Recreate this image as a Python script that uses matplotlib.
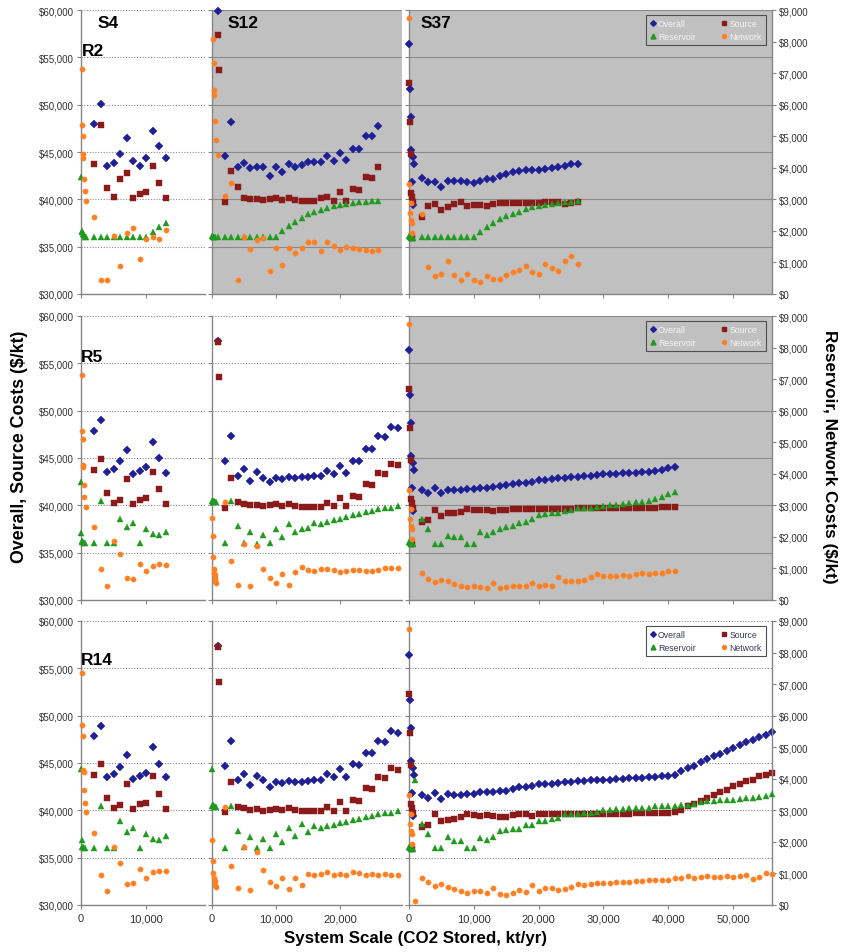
import matplotlib
matplotlib.use("Agg")
import matplotlib.pyplot as plt
from matplotlib.ticker import FuncFormatter
from matplotlib.lines import Line2D

plt.rcParams['font.family'] = ['Liberation Sans', 'DejaVu Sans']

# ---------------------------------------------------------------- data
# x positions (kt/yr) of the regular scale steps
X_S4 = [2000, 3000, 4000, 5000, 6000, 7000, 8000, 9000, 10000, 11000, 12000, 13000]
X_1K_26K = list(range(1000, 27000, 1000))
X_2K_26K = list(range(2000, 27000, 1000))
X_1K_29K = list(range(1000, 30000, 1000))
X_2K_29K = list(range(2000, 30000, 1000))
X_2K_41K = list(range(2000, 42000, 1000))
X_2K_56K = list(range(2000, 57000, 1000))

# Overall / Source -> left axis ($/kt, 30k-60k); Reservoir / Network -> right axis ($/kt, 0-9k)

# ---- R2 / S4
R2_S4_OVERALL_X = X_S4
R2_S4_OVERALL_Y = [48000, 50100, 43500, 43800, 44800, 46500, 44000, 43500, 44400, 47200, 45600, 44400]
R2_S4_SOURCE_X = X_S4
R2_S4_SOURCE_Y = [43700, 47800, 41200, 40200, 42100, 42800, 40100, 40600, 40800, 43500, 41700, 40100]
R2_S4_RESERVOIR_X = [0, 100, 200, 300, 400, 600, 800] + X_S4
R2_S4_RESERVOIR_Y = [3720, 1950, 2010, 1900, 1860, 1820, 1800,
                     1800, 1800, 1800, 1800, 1800, 1800, 1800, 1800, 1800, 1980, 2130, 2250]
R2_S4_NETWORK_X = [100, 150, 250, 300, 350, 450, 550, 700] + X_S4
R2_S4_NETWORK_Y = [7140, 5355, 5010, 4320, 4440, 3660, 3270, 2940,
                   2430, 450, 450, 1830, 900, 1920, 2100, 1110, 1740, 1800, 1740, 2040]

# ---- R2 / S12
R2_S12_OVERALL_X = X_1K_26K
R2_S12_OVERALL_Y = [59930, 44610, 48200, 43380, 43800, 43270, 43450, 43450, 42500, 43380,
                    42850, 43730, 43450, 43660, 43910, 43910, 43910, 44540, 44090, 44900,
                    44190, 45320, 45320, 46730, 46660, 47780]
R2_S12_SOURCE_X = [900, 1100] + X_2K_26K
R2_S12_SOURCE_Y = [57360, 53700,
                   39750, 42960, 41270, 40140, 40040, 40040, 39930, 40040, 40100, 39960,
                   40100, 39930, 39860, 39860, 39860, 40140, 40210, 39860, 40810, 39860,
                   41090, 41020, 42320, 42250, 43450]
R2_S12_RESERVOIR_X = [0, 100, 200, 300, 500] + X_1K_26K
R2_S12_RESERVOIR_Y = [1830, 1820, 1810, 1800, 1800,
                      1800, 1800, 1800, 1800, 1800, 1800, 1800, 1800, 1800, 1800,
                      1990, 2150, 2280, 2410, 2520, 2600, 2670, 2730, 2780, 2820,
                      2850, 2880, 2900, 2920, 2940, 2940]
R2_S12_NETWORK_X = [100, 250, 300, 350, 500, 600, 1000] + X_2K_26K
R2_S12_NETWORK_Y = [8070, 7320, 6450, 6300, 5490, 4890, 4410,
                    3120, 3510, 450, 1800, 1440, 1710, 1770, 720, 1470, 930,
                    1470, 1290, 1470, 1650, 1650, 1350, 1650, 1530, 1410, 1500,
                    1470, 1440, 1410, 1350, 1410]

# ---- S37 start-up points (near zero scale), common to all rows
S37_HEAD_OVERALL_X = [0, 150, 300, 300, 600, 800, 500, 600]
S37_HEAD_OVERALL_Y = [56430, 51700, 48700, 45200, 44500, 43730, 41870, 39400]
S37_HEAD_SOURCE_X = [0, 150, 300, 350, 450, 550, 400]
S37_HEAD_SOURCE_Y = [52300, 48170, 44830, 40630, 40270, 39770, 35900]
S37_HEAD_RESERVOIR_X = [0, 150, 300, 500, 600]
S37_HEAD_RESERVOIR_Y = [1850, 1800, 1780, 1800, 1760]
S37_HEAD_NETWORK_X = [0, 0, 300, 150, 300, 500, 400]
S37_HEAD_NETWORK_Y = [8750, 3490, 2870, 2560, 2350, 2240, 1930]

# ---- R2 / S37
R2_S37_OVERALL_X = S37_HEAD_OVERALL_X + X_2K_26K
R2_S37_OVERALL_Y = S37_HEAD_OVERALL_Y + [
    42300, 41800, 41800, 41300, 41900, 41900, 41900, 41800, 41700, 41900,
    42100, 42200, 42500, 42700, 42900, 43000, 43100, 43100, 43100, 43200,
    43300, 43400, 43500, 43700, 43700]
R2_S37_SOURCE_X = S37_HEAD_SOURCE_X + X_2K_26K
R2_S37_SOURCE_Y = S37_HEAD_SOURCE_Y + [
    38100, 39330, 39500, 38870, 39150, 39500, 39680, 39330, 39440, 39440,
    39330, 39500, 39600, 39600, 39600, 39600, 39600, 39600, 39600, 39680,
    39680, 39680, 39500, 39600, 39680]
R2_S37_RESERVOIR_X = S37_HEAD_RESERVOIR_X + X_2K_26K
R2_S37_RESERVOIR_Y = S37_HEAD_RESERVOIR_Y + [
    1800, 1800, 1800, 1800, 1800, 1800, 1800, 1800, 1800,
    1980, 2115, 2250, 2380, 2480, 2540, 2610, 2700, 2750, 2800,
    2810, 2860, 2880, 2910, 2910, 2940]
R2_S37_NETWORK_X = S37_HEAD_NETWORK_X + X_2K_26K
R2_S37_NETWORK_Y = S37_HEAD_NETWORK_Y + [
    2540, 850, 580, 640, 1060, 600, 450, 640, 430, 370,
    580, 480, 480, 600, 690, 770, 900, 710, 640, 950,
    820, 740, 1060, 1220, 950]

# ---- R5 / S4
R5_S4_OVERALL_X = X_S4
R5_S4_OVERALL_Y = [47800, 49000, 43500, 43800, 44700, 45800, 43300, 43600, 44000, 46700, 45000, 43400]
R5_S4_SOURCE_X = X_S4
R5_S4_SOURCE_Y = [43700, 44900, 41300, 40200, 40600, 42800, 40100, 40600, 40800, 43500, 41700, 40100]
R5_S4_RESERVOIR_X = [0, 0, 100, 200, 300, 400, 600] + X_S4
R5_S4_RESERVOIR_Y = [3750, 2130, 1860, 1830, 1830, 1800, 1800,
                     1800, 3150, 1800, 1800, 2580, 2310, 2430, 1800, 2250, 2100, 2070, 2160]
R5_S4_NETWORK_X = [100, 200, 250, 300, 350, 400, 500, 700] + X_S4
R5_S4_NETWORK_Y = [7140, 5340, 5100, 4290, 4200, 3660, 3270, 2940,
                   2310, 990, 450, 1860, 1470, 690, 660, 1140, 930, 1080, 1140, 1110]

# ---- R5 / S12
R5_S12_OVERALL_X = X_1K_29K
R5_S12_OVERALL_Y = [57400, 44700, 47300, 43100, 43800, 42600, 43500, 42900, 42500, 42900,
                    42800, 43000, 42900, 43000, 43000, 43100, 43100, 43600, 43300, 44200,
                    43400, 44700, 44700, 46000, 45900, 47300, 47200, 48300, 48200]
R5_S12_SOURCE_X = [1000, 1100] + X_2K_29K
R5_S12_SOURCE_Y = [57300, 53600,
                   39700, 42900, 40300, 40100, 40000, 40000, 39900, 40000, 40100, 39900,
                   40100, 39900, 39800, 39800, 39800, 39800, 40200, 39900, 40800, 39900,
                   41000, 40900, 42300, 42200, 43400, 43300, 44400, 44300]
R5_S12_RESERVOIR_X = [0, 100, 200, 300, 500, 700] + X_2K_29K
R5_S12_RESERVOIR_Y = [3150, 3150, 3120, 3150, 3120, 3090,
                      1800, 3150, 2340, 1800, 2160, 1770, 2070, 1800, 2250, 2010,
                      2400, 2160, 2250, 2280, 2430, 2400, 2460, 2520, 2580, 2640,
                      2700, 2730, 2790, 2820, 2880, 2910, 2910, 2970]
R5_S12_NETWORK_X = [0, 100, 200, 300, 350, 400, 450, 500, 600] + X_2K_29K
R5_S12_NETWORK_Y = [2610, 2040, 1350, 990, 870, 780, 690, 600, 540,
                    3090, 1230, 480, 1770, 450, 1710, 990, 690, 540, 810,
                    480, 900, 1050, 960, 930, 990, 990, 960, 900, 930,
                    960, 960, 930, 930, 960, 1020, 1020, 1020]

# ---- R5 / S37
R5_S37_OVERALL_X = S37_HEAD_OVERALL_X + X_2K_41K
R5_S37_OVERALL_Y = S37_HEAD_OVERALL_Y + [
    41570, 41330, 41800, 41270, 41630, 41600, 41600, 41730, 41770, 41800,
    41870, 41970, 42030, 42130, 42230, 42330, 42370, 42500, 42630, 42700,
    42800, 42870, 42900, 42970, 43030, 43100, 43130, 43200, 43270, 43300,
    43330, 43370, 43400, 43430, 43500, 43530, 43600, 43730, 43970, 44070]
R5_S37_SOURCE_X = S37_HEAD_SOURCE_X + X_2K_41K
R5_S37_SOURCE_Y = S37_HEAD_SOURCE_Y + [
    38270, 38470, 39500, 38830, 39170, 39170, 39330, 39600, 39530, 39530,
    39530, 39430, 39530, 39530, 39570, 39570, 39570, 39570, 39570, 39600,
    39570, 39630, 39600, 39600, 39670, 39670, 39700, 39700, 39700, 39700,
    39730, 39730, 39730, 39730, 39770, 39770, 39770, 39800, 39830, 39830]
R5_S37_RESERVOIR_X = S37_HEAD_RESERVOIR_X + X_2K_41K
R5_S37_RESERVOIR_Y = S37_HEAD_RESERVOIR_Y + [
    2560, 2240, 1790, 1790, 2030, 2010, 2010, 1790, 1790, 2140,
    2050, 2160, 2240, 2320, 2350, 2430, 2470, 2560, 2690, 2720,
    2770, 2770, 2820, 2850, 2900, 2900, 2930, 2950, 2980, 3000,
    3010, 3030, 3060, 3090, 3120, 3140, 3190, 3260, 3350, 3420]
R5_S37_NETWORK_X = S37_HEAD_NETWORK_X + X_2K_41K
R5_S37_NETWORK_Y = S37_HEAD_NETWORK_Y + [
    850, 680, 560, 640, 610, 510, 430, 400, 450, 400,
    370, 540, 370, 400, 450, 430, 450, 540, 450, 490,
    450, 720, 610, 610, 610, 640, 720, 820, 770, 770,
    770, 790, 770, 820, 850, 820, 850, 850, 930, 930]

# ---- R14 / S4
R14_S4_OVERALL_X = X_S4
R14_S4_OVERALL_Y = [47800, 48900, 43500, 43800, 44600, 45800, 43300, 43600, 43900, 46700, 44900, 43500]
R14_S4_SOURCE_X = X_S4
R14_S4_SOURCE_Y = [43700, 44900, 41300, 40200, 40600, 42800, 40100, 40700, 40800, 43600, 41700, 40100]
R14_S4_RESERVOIR_X = [0, 100, 200, 300, 400, 600] + X_S4
R14_S4_RESERVOIR_Y = [4320, 2070, 1830, 1830, 1800, 1800,
                      1800, 3150, 1800, 1800, 2670, 2310, 2430, 1800, 2250, 2100, 2070, 2190]
R14_S4_NETWORK_X = [100, 200, 300, 350, 400, 500, 600, 800] + X_S4
R14_S4_NETWORK_Y = [7350, 5700, 5340, 4290, 4200, 3660, 3240, 2940,
                    2280, 960, 450, 1830, 1320, 660, 690, 1140, 840, 1050, 1080, 1080]

# ---- R14 / S12
R14_S12_OVERALL_X = X_1K_29K
R14_S12_OVERALL_Y = [57400, 44700, 47300, 43200, 43800, 42700, 43600, 43200, 42500, 43000,
                     42900, 43100, 43000, 43000, 43100, 43200, 43200, 43800, 43500, 44400,
                     43500, 44900, 44800, 46100, 46100, 47300, 47200, 48400, 48200]
R14_S12_SOURCE_X = [1000, 1100] + X_2K_29K
R14_S12_SOURCE_Y = [57300, 53600,
                    39800, 43000, 40300, 40200, 40000, 40100, 39900, 40000, 40100, 40000,
                    40200, 40000, 39900, 39900, 39900, 39900, 40300, 39900, 40900, 39900,
                    41100, 41000, 42400, 42300, 43500, 43400, 44500, 44300]
R14_S12_RESERVOIR_X = [0, 0, 100, 200, 300, 500, 700] + X_2K_29K
R14_S12_RESERVOIR_Y = [4320, 3150, 3180, 3150, 3150, 3120, 3120,
                       1800, 3150, 2340, 1830, 2160, 1800, 2100, 1800, 2250, 2010,
                       2430, 2190, 2580, 2310, 2490, 2430, 2490, 2550, 2610, 2640,
                       2700, 2730, 2790, 2820, 2880, 2910, 2910, 2970]
R14_S12_NETWORK_X = [0, 100, 200, 300, 400, 500, 700] + X_2K_29K
R14_S12_NETWORK_Y = [2070, 1380, 1020, 870, 750, 630, 570,
                     3120, 1230, 540, 1830, 480, 1680, 1110, 720, 600, 870,
                     510, 870, 630, 990, 960, 990, 1050, 960, 990, 960,
                     1050, 1020, 960, 990, 960, 990, 960, 960]

# ---- R14 / S37
R14_S37_OVERALL_X = S37_HEAD_OVERALL_X + X_2K_56K
R14_S37_OVERALL_Y = S37_HEAD_OVERALL_Y + [
    41570, 41300, 41830, 41230, 41730, 41600, 41600, 41770, 41770, 41900,
    41900, 41930, 42000, 42000, 42270, 42430, 42430, 42600, 42730, 42730,
    42830, 42900, 42970, 42970, 43070, 43070, 43170, 43230, 43230, 43230,
    43330, 43330, 43370, 43430, 43430, 43470, 43530, 43600, 43670, 43770,
    44130, 44470, 44670, 45070, 45370, 45700, 46000, 46300, 46570, 46870,
    47170, 47400, 47730, 48000, 48270]
R14_S37_SOURCE_X = S37_HEAD_SOURCE_X + X_2K_56K
R14_S37_SOURCE_Y = S37_HEAD_SOURCE_Y + [
    38230, 38430, 39570, 38870, 39030, 39130, 39300, 39570, 39470, 39370,
    39470, 39370, 39300, 39300, 39470, 39570, 39570, 39370, 39630, 39630,
    39630, 39630, 39630, 39630, 39630, 39630, 39630, 39630, 39630, 39630,
    39630, 39630, 39630, 39730, 39730, 39730, 39730, 39730, 39770, 39830,
    40070, 40430, 40700, 41030, 41300, 41670, 41900, 42200, 42530, 42800,
    43070, 43230, 43600, 43700, 43930]
R14_S37_RESERVOIR_X = S37_HEAD_RESERVOIR_X + [1000] + X_2K_56K
R14_S37_RESERVOIR_Y = S37_HEAD_RESERVOIR_Y + [3970] + [
    2570, 2260, 1810, 1810, 2160, 2020, 2020, 1810, 1810, 2130,
    2060, 2150, 2360, 2390, 2410, 2410, 2520, 2550, 2660, 2660,
    2710, 2760, 2870, 2870, 2890, 2920, 2920, 2950, 3000, 3000,
    3030, 3030, 3060, 3080, 3080, 3080, 3130, 3130, 3150, 3150,
    3180, 3180, 3210, 3260, 3290, 3290, 3320, 3320, 3340, 3360,
    3390, 3390, 3430, 3450, 3530]
R14_S37_NETWORK_X = S37_HEAD_NETWORK_X + [1000] + X_2K_56K
R14_S37_NETWORK_Y = S37_HEAD_NETWORK_Y + [130] + [
    860, 730, 600, 670, 580, 500, 430, 390, 430, 430,
    390, 540, 360, 330, 390, 460, 410, 620, 440, 550,
    540, 470, 500, 580, 650, 620, 670, 710, 710, 690,
    730, 730, 730, 760, 750, 780, 780, 790, 790, 860,
    860, 920, 860, 890, 920, 890, 890, 920, 900, 920,
    960, 810, 890, 1020, 970]

SERIES_NAMES = ["Overall", "Source", "Reservoir", "Network"]
ROW_NAMES = ["R2", "R5", "R14"]
COL_NAMES = ["S4", "S12", "S37"]

# ---------------------------------------------------------------- layout / style
W, H = 841, 953
COL_PX = {"S4": (81, 205), "S12": (212, 402), "S37": (409, 772)}
COL_XMAX = {"S4": 19000, "S12": 29700, "S37": 56000}
COL_XTICKS = {"S4": [0, 10000], "S12": [0, 10000, 20000],
              "S37": [0, 10000, 20000, 30000, 40000, 50000]}
ROW_PX = {"R2": (11, 295), "R5": (317, 601), "R14": (622, 906)}
GRAY_PANELS = {("R2", "S12"), ("R2", "S37"), ("R5", "S37")}
PANEL_GRAY = "#c0c0c0"
AXIS_GRAY = "#868686"

C_OVERALL = "#1f1f96"
C_SOURCE = "#8b1a1a"
C_RESERVOIR = "#1f9a1f"
C_NETWORK = "#ff8022"

STYLE = {
    "Overall": dict(marker="D", ms=3.8, color=C_OVERALL),
    "Source": dict(marker="s", ms=4.1, color=C_SOURCE),
    "Reservoir": dict(marker="^", ms=4.7, color=C_RESERVOIR),
    "Network": dict(marker="o", ms=3.8, color=C_NETWORK),
}

g = globals()


def money(v, pos):
    return "${:,.0f}".format(v)


fig = plt.figure(figsize=(W / 100, H / 100), dpi=100)

for row in ROW_NAMES:
    t, b = ROW_PX[row]
    for col in COL_NAMES:
        l, r = COL_PX[col]
        gray = (row, col) in GRAY_PANELS
        ax = fig.add_axes([l / W, 1 - b / H, (r - l) / W, (b - t) / H])
        ax.set_xlim(0, COL_XMAX[col])
        ax.set_ylim(30000, 60000)
        ax.set_facecolor(PANEL_GRAY if gray else "white")
        ax.set_yticks(list(range(30000, 60001, 5000)))
        ax.yaxis.set_major_formatter(FuncFormatter(money))
        if gray:
            ax.grid(axis="y", color="#8a8a8a", linestyle="-", linewidth=0.8)
        else:
            ax.grid(axis="y", color="#8a8a8a", linestyle=(0, (1, 1.5)), linewidth=0.8)
        ax.set_axisbelow(True)
        ax.set_xticks(COL_XTICKS[col])
        ax.xaxis.set_major_formatter(FuncFormatter(lambda v, p: "{:,.0f}".format(v)))
        ax.tick_params(axis="y", direction="out", length=3, width=0.8, color=AXIS_GRAY,
                       labelsize=7, labelcolor="#333333", labelleft=(col == "S4"), pad=2)
        ax.tick_params(axis="x", direction="out", length=3, width=0.8, color=AXIS_GRAY,
                       labelsize=8, labelcolor="#333333", labelbottom=(row == "R14"), pad=3)
        for s in ["top", "right"]:
            ax.spines[s].set_visible(False)
        for s in ["left", "bottom"]:
            ax.spines[s].set_color(AXIS_GRAY)
            ax.spines[s].set_linewidth(1.0)

        ax2 = ax.twinx()
        ax2.set_ylim(0, 9000)
        ax2.set_yticks(list(range(0, 9001, 1000)))
        ax2.yaxis.set_major_formatter(FuncFormatter(money))
        for s in ["top", "left", "bottom", "right"]:
            ax2.spines[s].set_visible(False)
        if col == "S37":
            ax2.spines["right"].set_visible(True)
            ax2.spines["right"].set_color(AXIS_GRAY)
            ax2.spines["right"].set_linewidth(1.0)
            ax2.tick_params(axis="y", direction="out", length=3, width=0.8, color=AXIS_GRAY,
                            labelsize=7, labelcolor="#333333", pad=2)
        else:
            ax2.tick_params(axis="y", right=False, labelright=False)

        for name in SERIES_NAMES:
            xs = g["{}_{}_{}_X".format(row, col, name.upper())]
            ys = g["{}_{}_{}_Y".format(row, col, name.upper())]
            target = ax if name in ("Overall", "Source") else ax2
            st = STYLE[name]
            target.plot(xs, ys, linestyle="none", marker=st["marker"], ms=st["ms"],
                        color=st["color"], mec=st["color"], mew=0.3,
                        clip_on=False, zorder=3)

        if col == "S37":
            handles = [Line2D([], [], linestyle="none", marker=STYLE[n]["marker"],
                              ms=STYLE[n]["ms"] * 0.75, color=STYLE[n]["color"], label=n)
                       for n in ["Overall", "Reservoir", "Source", "Network"]]
            leg = ax2.legend(handles=handles, ncol=2, loc="upper right",
                             bbox_to_anchor=(0.983, 0.982), fontsize=6.3,
                             frameon=True, fancybox=False, borderpad=0.45,
                             labelspacing=0.45, handlelength=0.7, handletextpad=0.25,
                             columnspacing=2.9, borderaxespad=0)
            fr = leg.get_frame()
            fr.set_facecolor(PANEL_GRAY if gray else "white")
            fr.set_edgecolor("#505050")
            fr.set_linewidth(0.8)
            fr.set_alpha(1)
            for txt in leg.get_texts():
                txt.set_color("#f4f4f4" if gray else "#3a3a5a")
            leg.set_zorder(10)

# panel labels
fig.text(98 / W, 1 - 23 / H, "S4", fontsize=12.5, fontweight="bold", va="center", ha="left")
fig.text(228 / W, 1 - 23 / H, "S12", fontsize=12.5, fontweight="bold", va="center", ha="left")
fig.text(421 / W, 1 - 23 / H, "S37", fontsize=12.5, fontweight="bold", va="center", ha="left")
fig.text(82 / W, 1 - 52 / H, "R2", fontsize=12.5, fontweight="bold", va="center", ha="left")
fig.text(81 / W, 1 - 358 / H, "R5", fontsize=12.5, fontweight="bold", va="center", ha="left")
fig.text(81 / W, 1 - 661 / H, "R14", fontsize=12.5, fontweight="bold", va="center", ha="left")

# axis titles
fig.text(20 / W, 1 - 447 / H, "Overall, Source Costs ($/kt)", fontsize=12.8, fontweight="bold",
         rotation=90, va="center", ha="center")
fig.text(829 / W, 1 - 457 / H, "Reservoir, Network Costs ($/kt)", fontsize=12.3, fontweight="bold",
         rotation=270, va="center", ha="center")
fig.text(415 / W, 1 - 939 / H, "System Scale (CO2 Stored, kt/yr)", fontsize=12.2, fontweight="bold",
         va="center", ha="center")

fig.savefig("out.png", dpi=100, facecolor="white")
